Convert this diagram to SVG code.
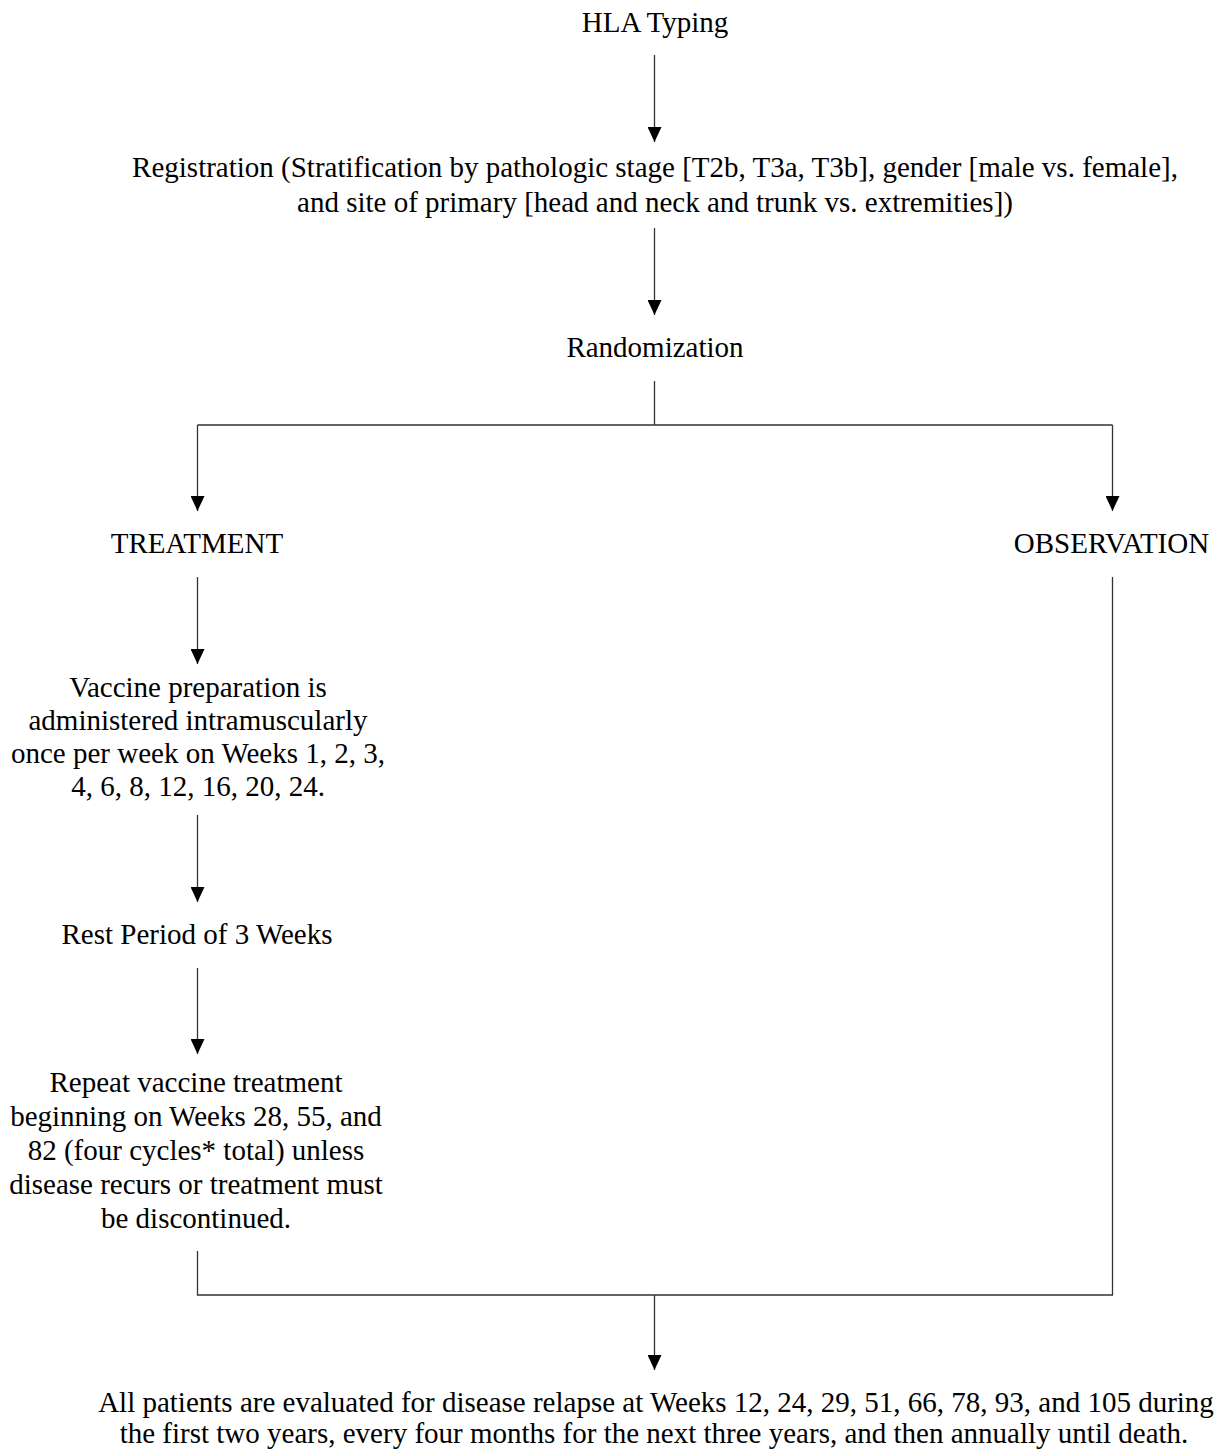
<svg xmlns="http://www.w3.org/2000/svg" width="1219" height="1450" viewBox="0 0 1219 1450">
<defs>
<style>
text{font-family:"Liberation Serif","Times New Roman",serif;font-size:29px;fill:#000;text-anchor:middle}
.c{fill:none;stroke:#333;stroke-width:1.3}
</style>
<marker id="ah" markerUnits="userSpaceOnUse" markerWidth="15" markerHeight="14" viewBox="0 0 15 14" refX="15" refY="7" orient="auto">
<path d="M0,0 L15,7 L0,14 Z" fill="#000"/>
</marker>
</defs>
<rect width="1219" height="1450" fill="#fff"/>
<g id="connectors">
<path class="c" d="M654.5 55 V142" marker-end="url(#ah)"/>
<path class="c" d="M654.5 228 V315" marker-end="url(#ah)"/>
<path class="c" d="M654.5 381 V425 M197.5 425 H1112.5"/>
<path class="c" d="M197.5 425 V511" marker-end="url(#ah)"/>
<path class="c" d="M1112.5 425 V511" marker-end="url(#ah)"/>
<path class="c" d="M197.5 577 V664" marker-end="url(#ah)"/>
<path class="c" d="M197.5 815 V902" marker-end="url(#ah)"/>
<path class="c" d="M197.5 968 V1054" marker-end="url(#ah)"/>
<path class="c" d="M197.5 1251 V1295 H1112.5 V577"/>
<path class="c" d="M654.5 1295 V1370" marker-end="url(#ah)"/>
</g>
<g id="hla"><text x="655" y="32">HLA Typing</text></g>
<g id="registration">
<text x="655" y="177">Registration (Stratification by pathologic stage [T2b, T3a, T3b], gender [male vs. female],</text>
<text x="655" y="212">and site of primary [head and neck and trunk vs. extremities])</text>
</g>
<g id="randomization"><text x="655" y="357">Randomization</text></g>
<g id="treatment"><text x="197" y="553">TREATMENT</text></g>
<g id="observation"><text x="1111.5" y="553">OBSERVATION</text></g>
<g id="vaccine">
<text x="198" y="697">Vaccine preparation is</text>
<text x="198" y="730">administered intramuscularly</text>
<text x="198" y="763">once per week on Weeks 1, 2, 3,</text>
<text x="198" y="796">4, 6, 8, 12, 16, 20, 24.</text>
</g>
<g id="rest"><text x="197" y="944">Rest Period of 3 Weeks</text></g>
<g id="repeat">
<text x="196" y="1092">Repeat vaccine treatment</text>
<text x="196" y="1126">beginning on Weeks 28, 55, and</text>
<text x="196" y="1160">82 (four cycles* total) unless</text>
<text x="196" y="1194">disease recurs or treatment must</text>
<text x="196" y="1228">be discontinued.</text>
</g>
<g id="evaluation">
<text x="656" y="1412">All patients are evaluated for disease relapse at Weeks 12, 24, 29, 51, 66, 78, 93, and 105 during</text>
<text x="654" y="1443">the first two years, every four months for the next three years, and then annually until death.</text>
</g>
</svg>
